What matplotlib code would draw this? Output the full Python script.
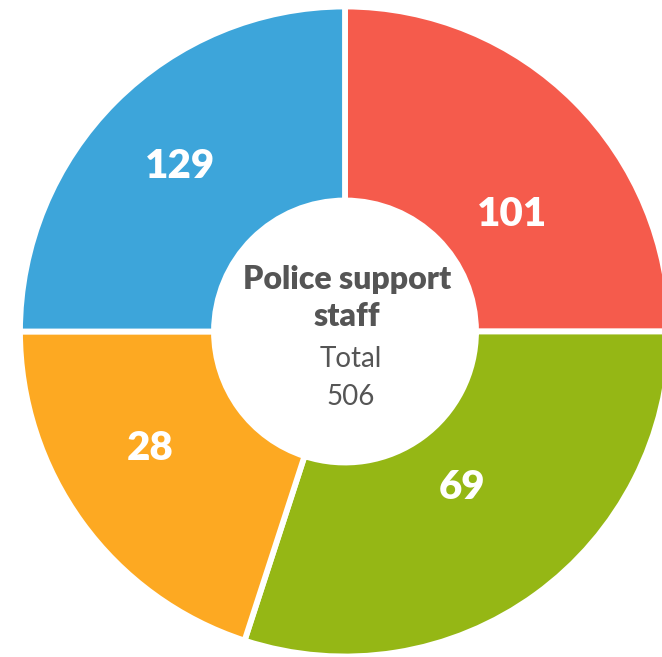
import matplotlib
matplotlib.use("Agg")
import matplotlib.pyplot as plt
import numpy as np

# ---- data ----
categories = ["A", "B", "C", "D"]
counts = [101, 69, 28, 129]
shares = [25, 30, 20, 25]          # share of the ring each wedge occupies (as drawn)
colors = ["#F55B4C", "#95B715", "#FDA922", "#3DA5DA"]
title_lines = ["Police support", "staff"]
total_label = "Total"
total_value = 506

W, H = 662, 657
fig = plt.figure(figsize=(W / 100, H / 100), dpi=100)
ax = fig.add_axes([0, 0, 1, 1])
ax.set_xlim(0, W)
ax.set_ylim(0, H)
ax.set_aspect("equal")
ax.axis("off")

cx, cy = 345, H - 331.5
R = 325
r_in = 131

wedges, _ = ax.pie(shares, colors=colors, startangle=90, counterclock=False,
                   radius=R, center=(cx, cy), frame=True,
                   wedgeprops=dict(width=R - r_in, edgecolor="white", linewidth=4.2))
ax.set_xlim(0, W)
ax.set_ylim(0, H)
ax.axis("off")

# label placement (layout): angular offset (deg) and radius per wedge
label_offsets = [10, -1, 5, 0]
label_radius = [204, 195, 227, 233]
for w, c, off, rr in zip(wedges, counts, label_offsets, label_radius):
    mid = (w.theta1 + w.theta2) / 2 - off
    x = cx + rr * np.cos(np.radians(mid))
    y = cy + rr * np.sin(np.radians(mid))
    ax.text(x, y, str(c), ha="center", va="center", color="white",
            fontsize=29, fontweight="heavy", family="Lato")

txt = "#555555"
ax.text(cx + 2, H - 279, title_lines[0], ha="center", va="center", color=txt,
        fontsize=23, fontweight="heavy", family="Lato")
ax.text(cx + 2, H - 316, title_lines[1], ha="center", va="center", color=txt,
        fontsize=23, fontweight="heavy", family="Lato")
ax.text(cx + 6, H - 359, total_label, ha="center", va="center", color=txt,
        fontsize=20, family="Lato")
ax.text(cx + 6, H - 397, str(total_value), ha="center", va="center", color=txt,
        fontsize=20, family="Lato")

fig.savefig("out.png", dpi=100, facecolor="white")
